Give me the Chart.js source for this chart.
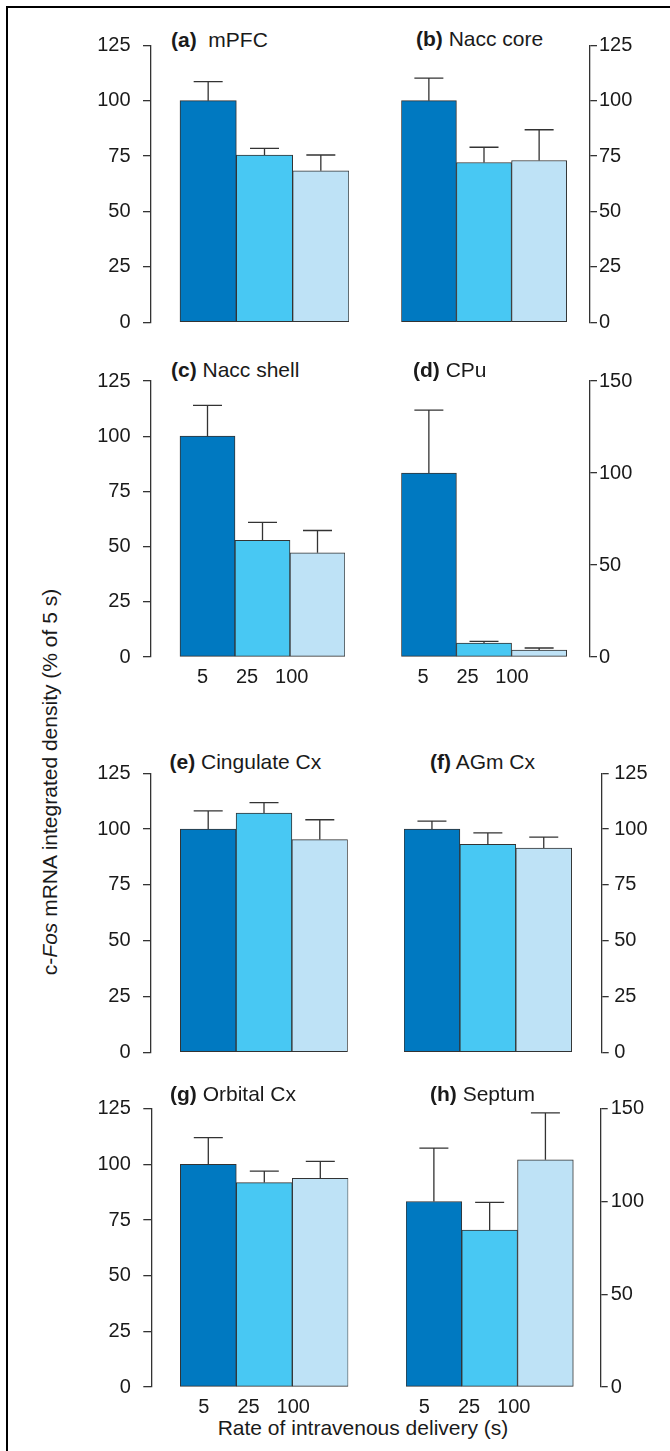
<!DOCTYPE html>
<html><head><meta charset="utf-8">
<script src="https://cdn.jsdelivr.net/npm/chart.js@4.4.1/dist/chart.umd.min.js"></script>
<style>
html,body{margin:0;padding:0;background:#fff;width:670px;height:1451px;overflow:hidden;position:relative;font-family:"Liberation Sans",Arial,sans-serif;}
canvas{position:absolute;}
.frame{position:absolute;left:6px;top:6px;width:720px;height:1500px;border-left:2.4px solid #000;border-top:2.4px solid #000;box-sizing:border-box;}
.ptitle{position:absolute;font-size:21px;line-height:21px;white-space:pre;color:#1a1a1a;}
.ytitle{position:absolute;left:49.4px;top:782px;font-size:21px;line-height:21px;white-space:nowrap;transform:translate(-50%,-50%) rotate(-90deg);color:#1a1a1a;}
.xtitle{position:absolute;left:363px;top:1417px;font-size:21px;line-height:21px;white-space:nowrap;transform:translateX(-50%);color:#1a1a1a;}
</style>
</head><body>
<div class="frame"></div>
<div class="ytitle">c-<i>Fos</i> mRNA integrated density (% of 5 s)</div>
<div class="xtitle">Rate of intravenous delivery (s)</div>
<script>
// ---- data ----
const categories = ['5', '25', '100'];
const letters = ['(a)', '(b)', '(c)', '(d)', '(e)', '(f)', '(g)', '(h)'];
const regions = ['mPFC', 'Nacc core', 'Nacc shell', 'CPu', 'Cingulate Cx', 'AGm Cx', 'Orbital Cx', 'Septum'];

const mpfcMean = [100, 75.5, 68.4];
const mpfcErr  = [108.6, 78.5, 75.5];
const naccCoreMean = [100, 72.1, 73.0];
const naccCoreErr  = [110.2, 79.0, 86.9];
const naccShellMean = [100, 52.8, 47.2];
const naccShellErr  = [114.0, 61.0, 57.3];
const cpuMean = [100, 7.6, 3.8];
const cpuErr  = [134.2, 8.5, 4.9];
const cingMean = [100, 107.2, 95.3];
const cingErr  = [108.2, 111.9, 104.2];
const agmMean = [100, 93.2, 91.5];
const agmErr  = [103.6, 98.3, 96.4];
const orbMean = [100, 91.8, 93.7];
const orbErr  = [112.0, 97.0, 101.3];
const septMean = [100, 84.6, 122.5];
const septErr  = [128.8, 99.5, 147.7];

const yMaxes = [125, 125, 125, 150, 125, 125, 125, 150];
const ySteps = [25, 25, 25, 50, 25, 25, 25, 50];

const means = [mpfcMean, naccCoreMean, naccShellMean, cpuMean, cingMean, agmMean, orbMean, septMean];
const errs  = [mpfcErr, naccCoreErr, naccShellErr, cpuErr, cingErr, agmErr, orbErr, septErr];

// ---- layout / style ----
const barColors = ['#0079C1', '#48C8F3', '#BEE2F6'];
const lineColor = '#333333';
const textColor = '#1a1a1a';
const panels = [
  {side:'left',  left:151,   right:349,   gap:29,   top:45.3,  bottom:322.3, tl:8, tp:12.5, title:[171,28.5], sep:'  '},
  {side:'right', left:401.3, right:590,   gap:23.3, top:45.3,  bottom:322.3, tl:7, tp:2,    title:[416,28],   sep:' '},
  {side:'left',  left:151,   right:345,   gap:29,   top:381,   bottom:657,   tl:8, tp:12.5, title:[171,359],  sep:' ', lab:[202.5,44.6]},
  {side:'right', left:401.3, right:590,   gap:23.3, top:381,   bottom:657,   tl:7, tp:2,    title:[413,359],  sep:' ', lab:[423,44.5]},
  {side:'left',  left:151,   right:347.7, gap:29.3, top:773.3, bottom:1052.3,tl:8, tp:12.5, title:[169.5,750.5], sep:' '},
  {side:'right', left:404,   right:601.7, gap:30,   top:773.3, bottom:1052.3,tl:7, tp:5.5,  title:[430,750.5], sep:' '},
  {side:'left',  left:151.3, right:348.3, gap:29,   top:1108.7,bottom:1387,  tl:8, tp:12.5, title:[170,1083], sep:' ', lab:[203.8,44.75]},
  {side:'right', left:406,   right:600.7, gap:27.4, top:1108.7,bottom:1387,  tl:7, tp:3,    title:[430,1083], sep:' ', lab:[424.3,44.75]}
];
const capHalf = 14.5;

Chart.defaults.font.family = '"Liberation Sans", Arial, sans-serif';
Chart.defaults.color = textColor;

const errorBars = {
  id: 'errorBars',
  afterDatasetsDraw(chart) {
    const meta = chart.getDatasetMeta(0);
    const ys = chart.scales.y;
    const tops = chart.data.datasets[0].errTops;
    const ctx = chart.ctx;
    ctx.save();
    ctx.strokeStyle = lineColor;
    ctx.lineWidth = 1.3;
    meta.data.forEach((bar, i) => {
      const yT = ys.getPixelForValue(tops[i]);
      ctx.beginPath();
      ctx.moveTo(bar.x, bar.y);
      ctx.lineTo(bar.x, yT);
      ctx.moveTo(bar.x - capHalf, yT);
      ctx.lineTo(bar.x + capHalf, yT);
      ctx.stroke();
    });
    ctx.restore();
  }
};

panels.forEach((P, i) => {
  // title
  const t = document.createElement('div');
  t.className = 'ptitle';
  t.style.left = P.title[0] + 'px';
  t.style.top = P.title[1] + 'px';
  const b = document.createElement('b');
  b.textContent = letters[i];
  t.appendChild(b);
  t.appendChild(document.createTextNode(P.sep + regions[i]));
  document.body.appendChild(t);

  // canvas geometry
  const isLeft = P.side === 'left';
  const cl = isLeft ? 0 : 335;
  const cw = isLeft ? Math.ceil(P.right) + 14 : 335;
  const ct = Math.floor(P.top) - 34;
  const below = P.lab ? 46 : 34;
  const ch = Math.ceil(P.bottom - ct + below);
  const padTop = P.top - ct;
  const bottomSpace = ch - (P.bottom - ct);
  const padLeft = isLeft ? 0 : P.left - cl;
  const padRight = isLeft ? cw - P.right : 0;
  const yWidth = isLeft ? P.left - cl : (cl + cw) - P.right;

  const w = (P.right - P.left - P.gap) / 3;
  const xmin = isLeft ? -0.5 - P.gap / w : -0.5;
  const xmax = isLeft ? 2.5 : 2.5 + P.gap / w;

  const cv = document.createElement('canvas');
  cv.width = cw; cv.height = ch;
  cv.style.left = cl + 'px'; cv.style.top = ct + 'px';
  cv.style.width = cw + 'px'; cv.style.height = ch + 'px';
  document.body.appendChild(cv);

  const scales = {
    x: {
      type: 'linear', display: false, offset: false, min: xmin, max: xmax,
      afterBuildTicks: s => { s.ticks = categories.map((_, k) => ({value: k})); }
    },
    y: {
      position: isLeft ? 'left' : 'right',
      min: 0, max: yMaxes[i],
      ticks: { stepSize: ySteps[i], font: {size: 20}, color: textColor, padding: P.tp },
      grid: { display: true, drawOnChartArea: false, drawTicks: true, tickLength: P.tl, color: lineColor, lineWidth: 1.3 },
      border: { display: true, color: lineColor, width: 1.3 },
      afterFit: s => { s.width = yWidth; }
    }
  };
  if (P.lab) {
    const first = P.lab[0], step = P.lab[1];
    scales.xt = {
      type: 'linear', position: 'bottom', offset: false,
      min: -(first - P.left) / step, max: (P.right - first) / step,
      afterBuildTicks: s => { s.ticks = categories.map((_, k) => ({value: k})); },
      ticks: { callback: v => categories[v], font: {size: 20}, color: textColor, padding: 8, maxRotation: 0, autoSkip: false },
      grid: { display: false, drawTicks: false, offset: false },
      border: { display: false },
      afterFit: s => { s.height = bottomSpace; }
    };
  }

  new Chart(cv, {
    type: 'bar',
    data: {
      datasets: [{
        data: means[i].map((v, k) => ({x: k, y: v})),
        errTops: errs[i],
        backgroundColor: barColors,
        borderColor: lineColor,
        borderWidth: 1,
        borderSkipped: false,
        categoryPercentage: 1,
        barPercentage: 1
      }]
    },
    options: {
      responsive: false,
      animation: false,
      events: [],
      layout: { padding: { top: padTop, left: padLeft, right: padRight, bottom: P.lab ? 0 : bottomSpace } },
      plugins: { legend: {display: false}, tooltip: {enabled: false}, title: {display: false} },
      scales
    },
    plugins: [errorBars]
  });
});
</script>
</body></html>
